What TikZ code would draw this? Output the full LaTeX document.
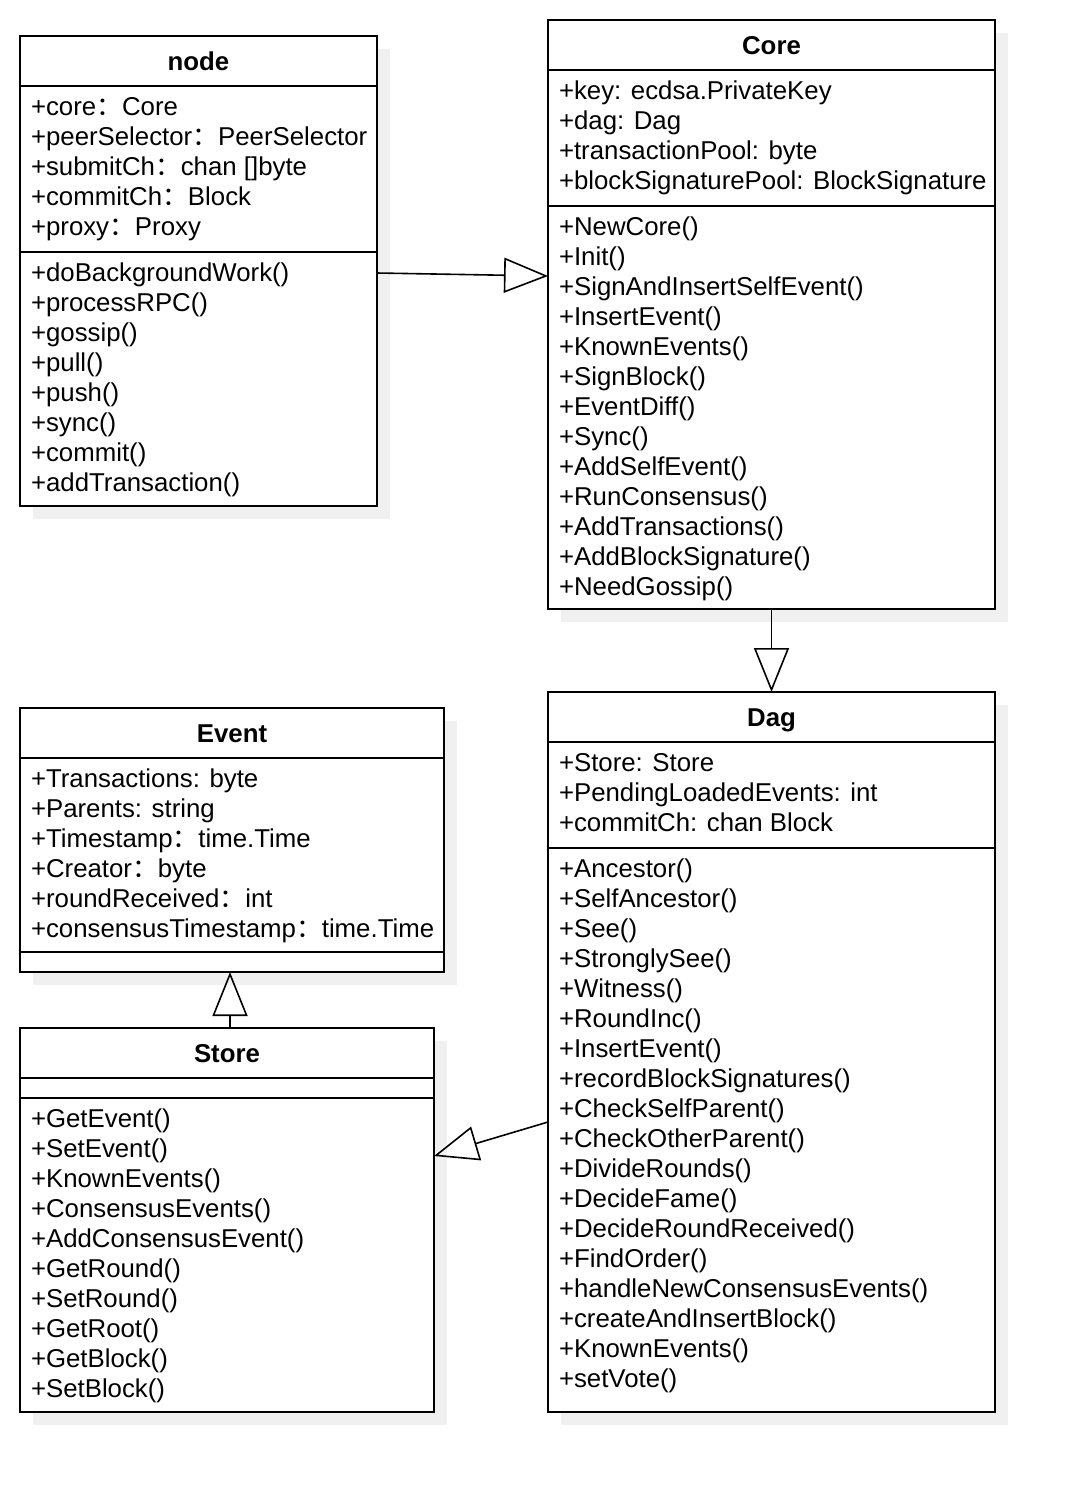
\documentclass[tikz,border=0pt]{standalone}
\usepackage{fontspec}
\setmainfont{Liberation Sans}
\newfontfamily\cjkfont{Noto Sans CJK SC}
\newcommand\fwcolon{{\cjkfont ：}}
\usetikzlibrary{arrows.meta,calc}
\begin{document}
\begin{tikzpicture}[x=1pt,y=-1pt,line width=2pt,
  classbox/.style={draw=black,fill=white,rectangle,inner sep=0pt,outer sep=0pt,anchor=north west},
  shadowbox/.style={fill=black!6,draw=none},
  txt/.style={anchor=base west,inner sep=0pt,font=\fontsize{25.8}{30}\selectfont},
  ttl/.style={anchor=base,inner sep=0pt,font=\fontsize{25.8}{30}\selectfont\bfseries},
  gen/.style={-{Triangle[open,length=44pt,width=35pt]},line width=1.6pt,line join=miter}]
\useasboundingbox (0,0) rectangle (1074,1492);
% shadows
\fill[shadowbox] (33,49) rectangle (390,519);
\fill[shadowbox] (561,33) rectangle (1008,622);
\fill[shadowbox] (561,705) rectangle (1008,1425);
\fill[shadowbox] (33,721) rectangle (457,985);
\fill[shadowbox] (33,1041) rectangle (447,1425);
% class boxes
\node[classbox,minimum width=357pt,minimum height=470pt] (nodeC) at (20,36) {};
\node[classbox,minimum width=447pt,minimum height=589pt] (coreC) at (548,20) {};
\node[classbox,minimum width=447pt,minimum height=720pt] (dagC) at (548,692) {};
\node[classbox,minimum width=424pt,minimum height=264pt] (eventC) at (20,708) {};
\node[classbox,minimum width=414pt,minimum height=384pt] (storeC) at (20,1028) {};
% dividers
\draw (nodeC.west |- 0,86) -- (nodeC.east |- 0,86);
\draw (nodeC.west |- 0,252) -- (nodeC.east |- 0,252);
\draw (coreC.west |- 0,70) -- (coreC.east |- 0,70);
\draw (coreC.west |- 0,206) -- (coreC.east |- 0,206);
\draw (dagC.west |- 0,742) -- (dagC.east |- 0,742);
\draw (dagC.west |- 0,848) -- (dagC.east |- 0,848);
\draw (eventC.west |- 0,758) -- (eventC.east |- 0,758);
\draw (eventC.west |- 0,952) -- (eventC.east |- 0,952);
\draw (storeC.west |- 0,1078) -- (storeC.east |- 0,1078);
\draw (storeC.west |- 0,1098) -- (storeC.east |- 0,1098);
% titles
\node[ttl] (nodeT) at (198.5,70) {node};
\node[ttl] (coreT) at (771.5,54) {Core};
\node[ttl] (dagT) at (771.5,726) {Dag};
\node[ttl] (eventT) at (232,742) {Event};
\node[ttl] (storeT) at (227,1062) {Store};
% node
\foreach \t [count=\i from 0] in {+core\fwcolon Core,+peerSelector\fwcolon PeerSelector,+submitCh\fwcolon chan []byte,+commitCh\fwcolon Block,+proxy\fwcolon Proxy}
  \node[txt] (na\i) at (30,115+30*\i) {\t};
\foreach \t [count=\i from 0] in {+doBackgroundWork(),+processRPC(),+gossip(),+pull(),+push(),+sync(),+commit(),+addTransaction()}
  \node[txt] (nm\i) at (30,281+30*\i) {\t};
% Core
\foreach \t [count=\i from 0] in {+key: ecdsa.PrivateKey,+dag: Dag,+transactionPool: byte,+blockSignaturePool: BlockSignature}
  \node[txt] (ca\i) at (558,99+30*\i) {\t};
\foreach \t [count=\i from 0] in {+NewCore(),+Init(),+SignAndInsertSelfEvent(),+InsertEvent(),+KnownEvents(),+SignBlock(),+EventDiff(),+Sync(),+AddSelfEvent(),+RunConsensus(),+AddTransactions(),+AddBlockSignature(),+NeedGossip()}
  \node[txt] (cm\i) at (558,235+30*\i) {\t};
% Dag
\foreach \t [count=\i from 0] in {+Store: Store,+PendingLoadedEvents: int,+commitCh: chan Block}
  \node[txt] (da\i) at (558,771+30*\i) {\t};
\foreach \t [count=\i from 0] in {+Ancestor(),+SelfAncestor(),+See(),+StronglySee(),+Witness(),+RoundInc(),+InsertEvent(),+recordBlockSignatures(),+CheckSelfParent(),+CheckOtherParent(),+DivideRounds(),+DecideFame(),+DecideRoundReceived(),+FindOrder(),+handleNewConsensusEvents(),+createAndInsertBlock(),+KnownEvents(),+setVote()}
  \node[txt] (dm\i) at (558,877+30*\i) {\t};
% Event
\foreach \t [count=\i from 0] in {+Transactions: byte,+Parents: string,+Timestamp\fwcolon time.Time,+Creator\fwcolon byte,+roundReceived\fwcolon int,+consensusTimestamp\fwcolon time.Time}
  \node[txt] (ea\i) at (30,787+30*\i) {\t};
% Store
\foreach \t [count=\i from 0] in {+GetEvent(),+SetEvent(),+KnownEvents(),+ConsensusEvents(),+AddConsensusEvent(),+GetRound(),+SetRound(),+GetRoot(),+GetBlock(),+SetBlock()}
  \node[txt] (sm\i) at (30,1127+30*\i) {\t};
% connectors
\draw[gen] (nodeC.east |- 0,273) -- (coreC.west |- 0,276);
\draw[gen] (coreC.south) -- (dagC.north);
\draw[gen] (storeC.north -| 230,0) -- (eventC.south -| 230,0);
\draw[gen] (dagC.west |- 0,1122) -- (storeC.east |- 0,1156);
\end{tikzpicture}
\end{document}
